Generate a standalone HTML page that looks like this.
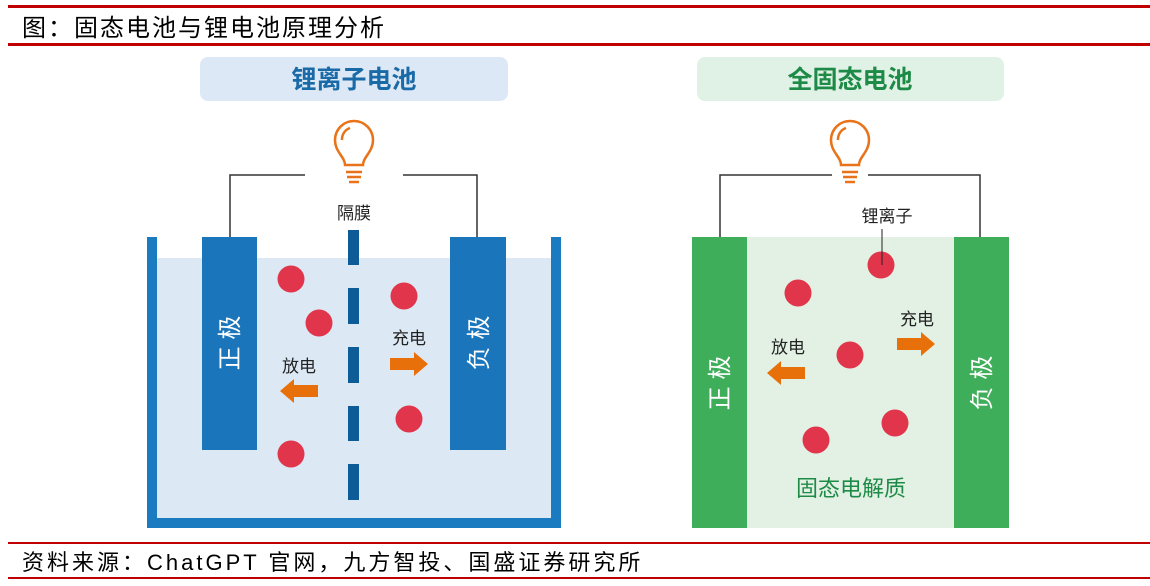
<!DOCTYPE html>
<html><head><meta charset="utf-8"><style>
body{margin:0;background:#fff}
svg{display:block}
text{font-family:"Liberation Sans","Noto Sans CJK SC",sans-serif}
</style></head><body>
<svg width="1150" height="586" viewBox="0 0 1150 586" xmlns="http://www.w3.org/2000/svg">
<rect x="8" y="5" width="1142" height="3" fill="#c00000"/>
<text x="22" y="36" font-size="24" letter-spacing="2" fill="#000" font-family="'Noto Serif CJK SC','Noto Sans CJK SC',serif">图：固态电池与锂电池原理分析</text>
<rect x="8" y="43" width="1142" height="3" fill="#c00000"/>
<rect x="8" y="542" width="1142" height="2" fill="#c00000"/>
<text x="22" y="570" font-size="22" letter-spacing="3" fill="#000" font-family="'Liberation Mono','Noto Serif CJK SC',serif">资料来源：ChatGPT 官网，九方智投、国盛证券研究所</text>
<rect x="8" y="577" width="1142" height="2" fill="#c00000"/>

<!-- LEFT -->
<rect x="200" y="57" width="308" height="44" rx="8" fill="#dce8f5"/>
<text x="354" y="88" font-size="25" font-weight="bold" fill="#1a6aa8" text-anchor="middle">锂离子电池</text>
<g fill="none" stroke="#e8731a" stroke-width="2.5">
<path d="M345 165 C345 157 335 152 335 140 A19 19 0 1 1 373 140 C373 152 363 157 363 165 Z"/>
<path d="M342 140 A12 12 0 0 1 350 128"/>
<line x1="346" y1="172" x2="362" y2="172"/><line x1="347" y1="177" x2="361" y2="177"/><line x1="349" y1="182" x2="359" y2="182"/>
</g>
<path d="M230 237 V175 H305 M403 175 H477 V237" fill="none" stroke="#333" stroke-width="1.5"/>
<text x="354" y="219" font-size="17" fill="#222" text-anchor="middle">隔膜</text>
<rect x="157" y="258" width="394" height="260" fill="#dde8f5"/>
<rect x="147" y="237" width="10" height="291" fill="#1a7bc1"/>
<rect x="551" y="237" width="10" height="291" fill="#1a7bc1"/>
<rect x="147" y="518" width="414" height="10" fill="#1a7bc1"/>
<rect x="202" y="237" width="55" height="213" fill="#1a75bb"/>
<rect x="450" y="237" width="56" height="213" fill="#1a75bb"/>
<g fill="#0d5c97">
<rect x="348" y="230" width="11" height="35"/><rect x="348" y="288" width="11" height="36"/><rect x="348" y="347" width="11" height="36"/><rect x="348" y="406" width="11" height="35"/><rect x="348" y="464" width="11" height="36"/>
</g>
<text transform="translate(238,343) rotate(-90)" font-size="24" fill="#fff" text-anchor="middle">正 极</text>
<text transform="translate(487,343) rotate(-90)" font-size="24" fill="#fff" text-anchor="middle">负 极</text>
<g fill="#e0354a"><circle cx="291" cy="279" r="13.5"/><circle cx="319" cy="323" r="13.5"/><circle cx="404" cy="296" r="13.5"/><circle cx="409" cy="419" r="13.5"/><circle cx="291" cy="454" r="13.5"/></g>
<text x="299" y="372" font-size="17" fill="#222" text-anchor="middle">放电</text>
<text x="409" y="344" font-size="17" fill="#222" text-anchor="middle">充电</text>
<path d="M318 385 H294 V379 L280 391 L294 403 V397 H318 Z" fill="#e8700a"/>
<path d="M390 358 H414 V352 L428 364 L414 376 V370 H390 Z" fill="#e8700a"/>

<!-- RIGHT -->
<rect x="697" y="57" width="307" height="44" rx="8" fill="#e0f2e6"/>
<text x="850" y="88" font-size="25" font-weight="bold" fill="#1e8a47" text-anchor="middle">全固态电池</text>
<g fill="none" stroke="#e8731a" stroke-width="2.5">
<path d="M841 165 C841 157 831 152 831 140 A19 19 0 1 1 869 140 C869 152 859 157 859 165 Z"/>
<path d="M838 140 A12 12 0 0 1 846 128"/>
<line x1="842" y1="172" x2="858" y2="172"/><line x1="843" y1="177" x2="857" y2="177"/><line x1="845" y1="182" x2="855" y2="182"/>
</g>
<path d="M720 237 V175 H832 M868 175 H980 V237" fill="none" stroke="#333" stroke-width="1.5"/>
<rect x="747" y="237" width="207" height="291" fill="#e2f1e3"/>
<rect x="692" y="237" width="55" height="291" fill="#3fae5a"/>
<rect x="954" y="237" width="55" height="291" fill="#3fae5a"/>
<text transform="translate(728,383) rotate(-90)" font-size="24" fill="#fff" text-anchor="middle">正 极</text>
<text transform="translate(990,383) rotate(-90)" font-size="24" fill="#fff" text-anchor="middle">负 极</text>
<text x="887" y="222" font-size="17" fill="#222" text-anchor="middle">锂离子</text>
<g fill="#e0354a"><circle cx="881" cy="265" r="13.5"/><circle cx="798" cy="293" r="13.5"/><circle cx="850" cy="355" r="13.5"/><circle cx="816" cy="440" r="13.5"/><circle cx="895" cy="423" r="13.5"/></g>
<line x1="882" y1="229" x2="882" y2="265" stroke="#222" stroke-width="1"/>
<text x="788" y="353" font-size="17" fill="#222" text-anchor="middle">放电</text>
<text x="917" y="325" font-size="17" fill="#222" text-anchor="middle">充电</text>
<path d="M805 367 H781 V361 L767 373 L781 385 V379 H805 Z" fill="#e8700a"/>
<path d="M897 338 H921 V332 L935 344 L921 356 V350 H897 Z" fill="#e8700a"/>
<text x="851" y="496" font-size="22" fill="#1e8a47" text-anchor="middle">固态电解质</text>
</svg>
</body></html>
